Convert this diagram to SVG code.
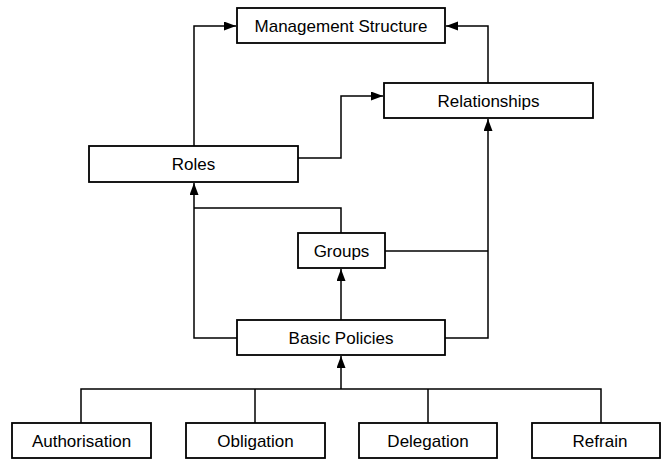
<svg xmlns="http://www.w3.org/2000/svg" width="661" height="460" viewBox="0 0 661 460">
<style>
.box{fill:#fff;stroke:#000;stroke-width:1.8}
.lbl{font-family:"Liberation Sans",Arial,sans-serif;font-size:17px;fill:#000;text-anchor:middle}
.ln{fill:none;stroke:#000;stroke-width:1.5}
</style>
<defs>
<marker id="ah" markerUnits="userSpaceOnUse" markerWidth="12" markerHeight="10" refX="12" refY="4.5" orient="auto">
<path d="M0,0 L12,4.5 L0,9 z" fill="#000"/>
</marker>
</defs>
<rect width="661" height="460" fill="#fff"/>
<g id="connectors">
<path class="ln" d="M194,146 V26 H236" marker-end="url(#ah)"/>
<path class="ln" d="M488,83 V26 H446" marker-end="url(#ah)"/>
<path class="ln" d="M298,158 H341 V96 H383" marker-end="url(#ah)"/>
<path class="ln" d="M341,233 V208 H194"/>
<path class="ln" d="M237,338 H194 V183" marker-end="url(#ah)"/>
<path class="ln" d="M385,251 H488"/>
<path class="ln" d="M445,338 H488 V119" marker-end="url(#ah)"/>
<path class="ln" d="M341,320 V269" marker-end="url(#ah)"/>
<path class="ln" d="M81,423 V389 H601 V423"/>
<path class="ln" d="M255,423 V389"/>
<path class="ln" d="M428,423 V389"/>
<path class="ln" d="M341,389 V356" marker-end="url(#ah)"/>
</g>
<g id="management-structure"><rect class="box" x="237" y="8" width="208" height="35"/><text class="lbl" x="341" y="31.5">Management Structure</text></g>
<g id="relationships"><rect class="box" x="384" y="83" width="209" height="35"/><text class="lbl" x="488.5" y="106.5">Relationships</text></g>
<g id="roles"><rect class="box" x="89" y="146" width="209" height="36"/><text class="lbl" x="193.5" y="170">Roles</text></g>
<g id="groups"><rect class="box" x="298" y="233" width="87" height="35"/><text class="lbl" x="341.5" y="256.5">Groups</text></g>
<g id="basic-policies"><rect class="box" x="237" y="320" width="208" height="35"/><text class="lbl" x="341" y="343.5">Basic Policies</text></g>
<g id="authorisation"><rect class="box" x="12" y="423" width="139" height="35"/><text class="lbl" x="81.5" y="446.5">Authorisation</text></g>
<g id="obligation"><rect class="box" x="186" y="423" width="139" height="35"/><text class="lbl" x="255.5" y="446.5">Obligation</text></g>
<g id="delegation"><rect class="box" x="359" y="423" width="138" height="35"/><text class="lbl" x="428" y="446.5">Delegation</text></g>
<g id="refrain"><rect class="box" x="532" y="423" width="128" height="35"/><text class="lbl" x="600" y="446.5">Refrain</text></g>
</svg>
